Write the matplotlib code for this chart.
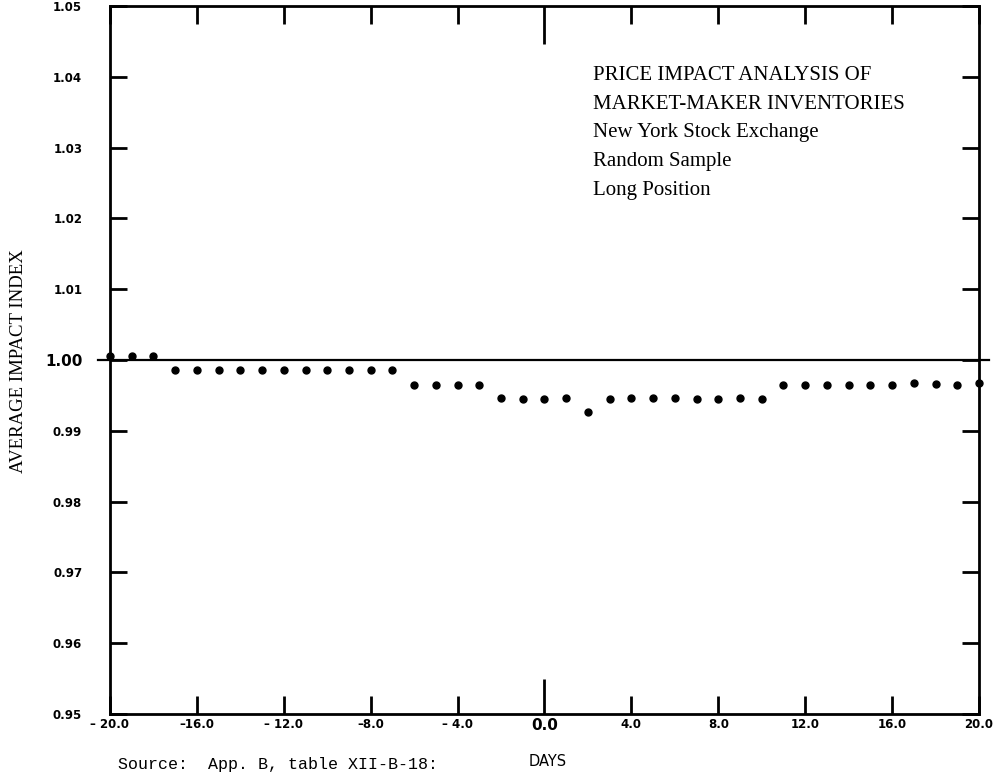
import matplotlib
matplotlib.use("Agg")
import matplotlib.pyplot as plt
import numpy as np

# ---- data ----
days = list(range(-20, 21))
impact = [1.0005, 1.0005, 1.0005,
          0.9986, 0.9986, 0.9986, 0.9986, 0.9986, 0.9986, 0.9986, 0.9986, 0.9986, 0.9986, 0.9986,
          0.9965, 0.9965, 0.9965, 0.9965,
          0.9946, 0.9945, 0.9945, 0.9946, 0.9927, 0.9945, 0.9947, 0.9946, 0.9947, 0.9945, 0.9945,
          0.9946, 0.9945,
          0.9964, 0.9965, 0.9965, 0.9965, 0.9965, 0.9965, 0.9967, 0.9966, 0.9965, 0.9967]
xticks = [-20, -16, -12, -8, -4, 0, 4, 8, 12, 16, 20]
xticklabels = ["\u2013 20.0", "\u201316.0", "\u2013 12.0", "\u20138.0", "\u2013 4.0", "0.0",
               "4.0", "8.0", "12.0", "16.0", "20.0"]
yticks = [0.95, 0.96, 0.97, 0.98, 0.99, 1.00, 1.01, 1.02, 1.03, 1.04, 1.05]
yticklabels = ["0.95", "0.96", "0.97", "0.98", "0.99", "1.00", "1.01", "1.02", "1.03", "1.04", "1.05"]
legend_lines = ["PRICE IMPACT ANALYSIS OF", "MARKET-MAKER INVENTORIES",
                "New York Stock Exchange", "Random Sample", "Long Position"]

W, H = 1003, 773
fig = plt.figure(figsize=(W / 100, H / 100), dpi=100)
L, R, T, B = 110, 979, 6, 714
ax = fig.add_axes([L / W, 1 - B / H, (R - L) / W, (B - T) / H])

ax.set_xlim(-20, 20)
ax.set_ylim(0.95, 1.05)

ax.axhline(1.0, xmin=-0.014, xmax=1.012, color="black", lw=1.6, clip_on=False, zorder=2)
ax.plot(days, impact, "o", color="black", markersize=5, clip_on=False, zorder=3)

for s in ax.spines.values():
    s.set_linewidth(2.0)

# x ticks
ax.set_xticks(xticks)
ax.set_xticklabels(xticklabels, fontsize=8.5, fontweight="bold", family="DejaVu Sans")
ax.tick_params(axis="x", direction="in", top=True, bottom=True, length=13, width=2.0, pad=3)
for t, v in zip(ax.xaxis.get_major_ticks(), xticks):
    if v == 0:
        t.tick1line.set_markersize(25.5)
        t.tick2line.set_markersize(27)
        t.label1.set_fontsize(11)
# y ticks
ax.set_yticks(yticks)
ax.set_yticklabels(yticklabels, fontsize=8.5, fontweight="bold", family="DejaVu Sans")
ax.tick_params(axis="y", direction="in", left=True, right=True, length=12, width=2.0, pad=20)
for t, v in zip(ax.yaxis.get_major_ticks(), yticks):
    if abs(v - 1.0) < 1e-9:
        t.label1.set_fontsize(11)

# annotation block
for i, line in enumerate(legend_lines):
    fig.text(593 / W, 1 - (76 + 28.5 * i) / H, line, family="Liberation Serif",
             fontsize=15, ha="left", va="center")

# axis labels
fig.text(19 / W, 1 - 361 / H, "AVERAGE IMPACT INDEX", rotation=90, family="Liberation Serif",
         fontsize=13.5, ha="center", va="center")
fig.text(548 / W, 1 - 762 / H, "DAYS", family="DejaVu Sans", fontsize=10.5, ha="center", va="center")
fig.text(118 / W, 1 - 764 / H, "Source:  App. B, table XII-B-18:", family="Liberation Mono",
         fontsize=12, ha="left", va="center")

fig.savefig("out.png", dpi=100)
